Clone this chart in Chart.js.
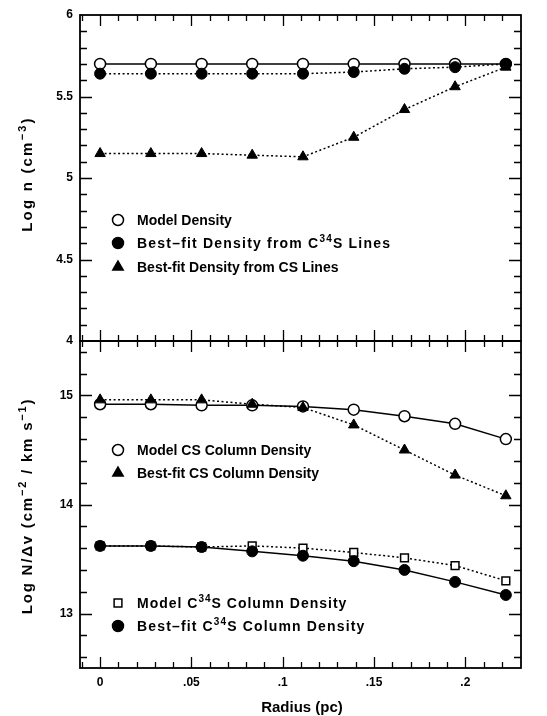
<!DOCTYPE html>
<html>
<head>
<meta charset="utf-8">
<script src="https://cdn.jsdelivr.net/npm/chart.js@4.4.1/dist/chart.umd.min.js"></script>
<style>
  html, body { margin: 0; padding: 0; background: #fff; }
  #wrap { position: relative; width: 547px; height: 716px; overflow: hidden; }
  canvas { position: absolute; left: 0; }
  #topPanel { top: 0; }
  #bottomPanel { top: 300px; }
</style>
</head>
<body>
<div id="wrap">
  <canvas id="topPanel" width="547" height="360"></canvas>
  <canvas id="bottomPanel" width="547" height="416"></canvas>
</div>
<script>
// radius (pc) of each model shell
const radius = [0, 0.0278, 0.0556, 0.0833, 0.1111, 0.1389, 0.1667, 0.1944, 0.2222];

// top panel: Log n (cm^-3)
const modelDensity   = [5.70, 5.70, 5.70, 5.70, 5.70, 5.70, 5.70, 5.70, 5.70];
const fitDensityC34S = [5.64, 5.64, 5.64, 5.64, 5.64, 5.65, 5.67, 5.68, 5.70];
const fitDensityCS   = [5.15, 5.15, 5.15, 5.14, 5.13, 5.25, 5.42, 5.56, 5.68];

// bottom panel: Log N/dv
const modelColumnCS   = [14.92, 14.92, 14.91, 14.91, 14.90, 14.87, 14.81, 14.74, 14.60];
const fitColumnCS     = [14.96, 14.96, 14.96, 14.92, 14.89, 14.73, 14.50, 14.27, 14.08];
const modelColumnC34S = [13.62, 13.62, 13.61, 13.62, 13.60, 13.56, 13.51, 13.44, 13.30];
const fitColumnC34S   = [13.62, 13.62, 13.61, 13.57, 13.53, 13.48, 13.40, 13.29, 13.17];

// tick labels
const xTickValues = [0, 0.05, 0.1, 0.15, 0.2];
const xTickLabels = ['0', '.05', '.1', '.15', '.2'];
const yTopTickValues = [4, 4.5, 5, 5.5, 6];
const yTopTickLabels = ['4', '4.5', '5', '5.5', '6'];
const yBottomTickValues = [13, 14, 15];
const yBottomTickLabels = ['13', '14', '15'];

const FONT = '"Liberation Sans", Arial, Helvetica, sans-serif';

function pts(arr) {
  return radius.map((r, i) => ({ x: r, y: arr[i] }));
}

// text with ^{..} superscripts
function drawRich(ctx, text, x, y, size, spacing, align) {
  const parts = text.split(/(\^\{[^}]*\})/).filter(s => s.length).map(s =>
    s.startsWith('^{') ? { t: s.slice(2, -1), sup: true } : { t: s, sup: false });
  const big = 'bold ' + size + 'px ' + FONT;
  const small = 'bold ' + Math.round(size * 0.72) + 'px ' + FONT;
  ctx.save();
  ctx.fillStyle = '#000';
  ctx.textBaseline = 'alphabetic';
  ctx.textAlign = 'left';
  ctx.letterSpacing = (spacing || 0) + 'px';
  let w = 0;
  parts.forEach(p => { ctx.font = p.sup ? small : big; p.w = ctx.measureText(p.t).width; w += p.w; });
  let cx = align === 'center' ? x - w / 2 : x;
  parts.forEach(p => {
    ctx.font = p.sup ? small : big;
    ctx.fillText(p.t, cx, p.sup ? y - size * 0.42 : y);
    cx += p.w;
  });
  ctx.restore();
}

const panelFrame = {
  id: 'panelFrame',
  beforeDatasetsDraw(chart, args, o) {
    const { ctx, chartArea: a } = chart;
    const xs = chart.scales.x, ys = chart.scales.y;
    ctx.save();
    ctx.strokeStyle = '#000';
    ctx.lineWidth = 1.8;
    ctx.strokeRect(a.left, a.top, a.right - a.left, a.bottom - a.top);
    ctx.lineWidth = 1.3;
    ctx.beginPath();
    // x ticks every 0.01, major every 0.05
    for (let k = -1; k <= 23; k++) {
      const px = Math.round(xs.getPixelForValue(k * 0.01)) + 0.5;
      if (px <= a.left + 1 || px >= a.right - 1) continue;
      const len = k % 5 === 0 ? 11 : 6;
      ctx.moveTo(px, a.top); ctx.lineTo(px, a.top + len);
      ctx.moveTo(px, a.bottom); ctx.lineTo(px, a.bottom - len);
    }
    // y ticks
    for (let k = 0; k < o.yCount; k++) {
      const v = o.yStart + k * o.yStep;
      const py = Math.round(ys.getPixelForValue(v)) + 0.5;
      if (py <= a.top + 1 || py >= a.bottom - 1) continue;
      const major = Math.abs(v / o.yMajor - Math.round(v / o.yMajor)) < 1e-6;
      const len = major ? 12 : 7;
      ctx.moveTo(a.left, py); ctx.lineTo(a.left + len, py);
      ctx.moveTo(a.right, py); ctx.lineTo(a.right - len, py);
    }
    ctx.stroke();
    ctx.restore();
  },
  afterDraw(chart, args, o) {
    const { ctx, chartArea: a } = chart;
    // legend
    (o.legend || []).forEach(item => {
      ctx.save();
      ctx.fillStyle = item.fill;
      ctx.strokeStyle = '#000';
      ctx.lineWidth = 1.5;
      Chart.helpers.drawPoint(ctx, { pointStyle: item.style, radius: item.r, borderWidth: 1.5, rotation: 0 },
        a.left + 38, item.y);
      ctx.restore();
      drawRich(ctx, item.text, a.left + 57, item.y + 5, 14, item.spacing, 'left');
    });
    // titles
    (o.titles || []).forEach(t => {
      ctx.save();
      ctx.translate(t.x, t.y);
      if (t.rotate) ctx.rotate(-Math.PI / 2);
      drawRich(ctx, t.text, 0, 5, t.size, t.spacing, 'center');
      ctx.restore();
    });
  }
};

function xScale(show) {
  const s = {
    type: 'linear', min: -0.011, max: 0.2305, display: show,
    grid: { display: false, drawTicks: false }, border: { display: false },
    afterBuildTicks: sc => { sc.ticks = xTickValues.map(v => ({ value: v })); },
    ticks: { autoSkip: false, maxRotation: 0, padding: 7, color: '#000',
      font: { family: FONT, size: 12, weight: 'bold' }, callback: (v, i) => xTickLabels[i] }
  };
  if (show) s.afterFit = sc => { sc.height = 48; };
  return s;
}

function yScale(min, max, vals, labels) {
  return {
    type: 'linear', min: min, max: max,
    grid: { display: false, drawTicks: false }, border: { display: false },
    afterBuildTicks: s => { s.ticks = vals.map(v => ({ value: v })); },
    afterFit: s => { s.width = 80; },
    ticks: { autoSkip: false, padding: 7, color: '#000',
      font: { family: FONT, size: 12, weight: 'bold' }, callback: (v, i) => labels[i] }
  };
}

const solid = { borderColor: '#000', borderWidth: 1.5, tension: 0 };
const dotted = { borderColor: '#000', borderWidth: 1.5, borderDash: [2, 2.5], tension: 0 };
const openCircle = { pointStyle: 'circle', pointRadius: 5.5, pointBackgroundColor: '#fff', pointBorderColor: '#000', pointBorderWidth: 1.5 };
const fullCircle = { pointStyle: 'circle', pointRadius: 5.5, pointBackgroundColor: '#000', pointBorderColor: '#000', pointBorderWidth: 1 };
const triangle = { pointStyle: 'triangle', pointRadius: 6, pointBackgroundColor: '#000', pointBorderColor: '#000', pointBorderWidth: 1 };
const openSquare = { pointStyle: 'rect', pointRadius: 5.5, pointBackgroundColor: '#fff', pointBorderColor: '#000', pointBorderWidth: 1.5 };

new Chart(document.getElementById('topPanel'), {
  type: 'line',
  data: {
    datasets: [
      Object.assign({ label: 'Model Density', data: pts(modelDensity), order: 2 }, solid, openCircle),
      Object.assign({ label: 'Best-fit Density from C34S Lines', data: pts(fitDensityC34S), order: 1 }, dotted, fullCircle),
      Object.assign({ label: 'Best-fit Density from CS Lines', data: pts(fitDensityCS), order: 0 }, dotted, triangle)
    ]
  },
  options: {
    responsive: false, animation: false, events: [],
    layout: { padding: { top: 15, right: 26, bottom: 19, left: 0 } },
    scales: { x: xScale(false), y: yScale(4, 6, yTopTickValues, yTopTickLabels) },
    plugins: {
      legend: { display: false }, tooltip: { enabled: false },
      panelFrame: {
        yStart: 4, yStep: 0.1, yCount: 21, yMajor: 0.5,
        legend: [
          { text: 'Model Density', style: 'circle', r: 5.5, fill: '#fff', y: 220 },
          { text: 'Best\u2013fit Density from C^{34}S Lines', style: 'circle', r: 5.5, fill: '#000', y: 243, spacing: 1.2 },
          { text: 'Best-fit Density from CS Lines', style: 'triangle', r: 6, fill: '#000', y: 267 }
        ],
        titles: [{ text: 'Log n (cm^{\u22123})', x: 27, y: 174, rotate: true, size: 15, spacing: 2.2 }]
      }
    }
  },
  plugins: [panelFrame]
});

new Chart(document.getElementById('bottomPanel'), {
  type: 'line',
  data: {
    datasets: [
      Object.assign({ label: 'Model CS Column Density', data: pts(modelColumnCS), order: 3 }, solid, openCircle),
      Object.assign({ label: 'Best-fit CS Column Density', data: pts(fitColumnCS), order: 0 }, dotted, triangle),
      Object.assign({ label: 'Model C34S Column Density', data: pts(modelColumnC34S), order: 2 }, dotted, openSquare),
      Object.assign({ label: 'Best-fit C34S Column Density', data: pts(fitColumnC34S), order: 1 }, solid, fullCircle)
    ]
  },
  options: {
    responsive: false, animation: false, events: [],
    layout: { padding: { top: 41, right: 26, bottom: 0, left: 0 } },
    scales: { x: xScale(true), y: yScale(12.5, 15.5, yBottomTickValues, yBottomTickLabels) },
    plugins: {
      legend: { display: false }, tooltip: { enabled: false },
      panelFrame: {
        yStart: 12.6, yStep: 0.2, yCount: 15, yMajor: 1,
        legend: [
          { text: 'Model CS Column Density', style: 'circle', r: 5.5, fill: '#fff', y: 150 },
          { text: 'Best-fit CS Column Density', style: 'triangle', r: 6, fill: '#000', y: 173 },
          { text: 'Model C^{34}S Column Density', style: 'rect', r: 5.5, fill: '#fff', y: 303, spacing: 1 },
          { text: 'Best\u2013fit C^{34}S Column Density', style: 'circle', r: 5.5, fill: '#000', y: 326, spacing: 1.15 }
        ],
        titles: [
          { text: 'Log N/\u0394v (cm^{\u22122} / km s^{\u22121})', x: 27, y: 206, rotate: true, size: 15, spacing: 1.8 },
          { text: 'Radius (pc)', x: 302, y: 407, rotate: false, size: 15, spacing: 0 }
        ]
      }
    }
  },
  plugins: [panelFrame]
});
</script>
</body>
</html>
